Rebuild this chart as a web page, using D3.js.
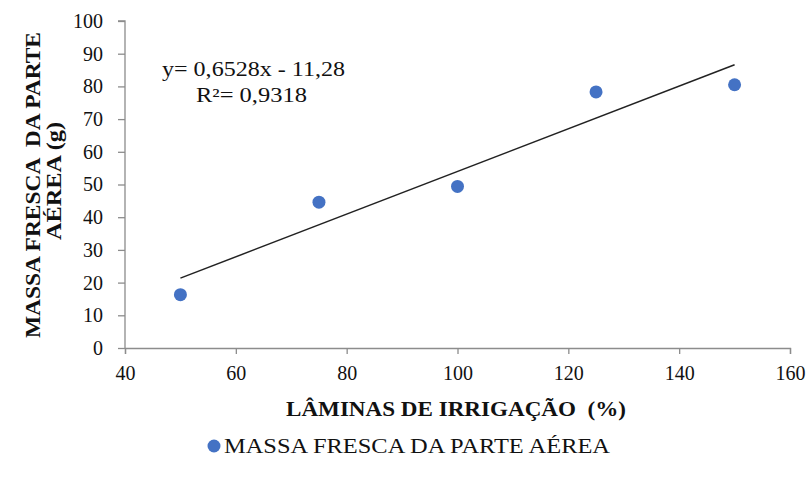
<!DOCTYPE html>
<html>
<head>
<meta charset="utf-8">
<script src="https://cdn.jsdelivr.net/npm/d3@7.9.0/dist/d3.min.js"></script>
<style>
  body { margin: 0; background: #fff; }
  svg { display: block; font-family: "Liberation Serif", "Times New Roman", serif; }
  svg text { font-family: "Liberation Serif", "Times New Roman", serif; }
</style>
</head>
<body>
<svg id="chart" width="807" height="484"></svg>
<script>
// data
const laminas = [50, 75, 100, 125, 150];
const massa   = [16.3, 44.6, 49.4, 78.3, 80.5];
const xTicks  = [40, 60, 80, 100, 120, 140, 160];
const yTicks  = [0, 10, 20, 30, 40, 50, 60, 70, 80, 90, 100];
const trend   = [0.6528, -11.28];   // slope, intercept
const eqLines = ['y= 0,6528x - 11,28', 'R²= 0,9318'];

const svg = d3.select('#chart');
const plot = { left: 125, right: 790, top: 21, bottom: 348 };

const x = d3.scaleLinear().domain([40, 160]).range([plot.left, plot.right]);
const y = d3.scaleLinear().domain([0, 100]).range([plot.bottom, plot.top]);

/* ---- axes ---- */
const gx = svg.append('g')
  .attr('transform', `translate(0,${plot.bottom})`)
  .call(d3.axisBottom(x).tickValues(xTicks).tickSize(6).tickSizeOuter(6).tickPadding(12));
const gy = svg.append('g')
  .attr('transform', `translate(${plot.left},0)`)
  .call(d3.axisLeft(y).tickValues(yTicks).tickSize(7).tickSizeOuter(7).tickPadding(15));

[gx, gy].forEach(g => {
  g.attr('font-family', null).attr('font-size', null);
  g.select('.domain').attr('stroke', '#8c8c8c').attr('stroke-width', 1.3);
  g.selectAll('.tick line').attr('stroke', '#8c8c8c').attr('stroke-width', 1.3);
  g.selectAll('.tick text')
    .attr('fill', '#111')
    .style('font-size', '20px');
});
gy.select('.domain').attr('d', `M-7,${plot.top}H0V${plot.bottom}`);

/* ---- trend line ---- */
const xEnds = d3.extent(laminas);
svg.append('line')
  .attr('x1', x(xEnds[0])).attr('y1', y(trend[0] * xEnds[0] + trend[1]))
  .attr('x2', x(xEnds[1])).attr('y2', y(trend[0] * xEnds[1] + trend[1]))
  .attr('stroke', '#222').attr('stroke-width', 1.5);

/* ---- points ---- */
svg.append('g').selectAll('circle')
  .data(laminas)
  .join('circle')
    .attr('cx', d => x(d))
    .attr('cy', (d, i) => y(massa[i]))
    .attr('r', 6.5)
    .attr('fill', '#4472c4');

/* ---- equation ---- */
svg.append('text').attr('x', 162).attr('y', 76)
  .style('font-size', '20px').attr('fill', '#111')
  .attr('textLength', 183).attr('lengthAdjust', 'spacingAndGlyphs')
  .text(eqLines[0]);
svg.append('text').attr('x', 196).attr('y', 102)
  .style('font-size', '20px').attr('fill', '#111')
  .attr('textLength', 111).attr('lengthAdjust', 'spacingAndGlyphs')
  .text(eqLines[1]);

/* ---- axis titles ---- */
svg.append('text')
  .attr('x', 286).attr('y', 416)
  .style('font-size', '22px').style('font-weight', 'bold')
  .style('white-space', 'pre')
  .attr('fill', '#111')
  .attr('textLength', 340).attr('lengthAdjust', 'spacingAndGlyphs')
  .text('LÂMINAS DE IRRIGAÇÃO  (%)');

const yTitle = svg.append('g').attr('transform', 'rotate(-90)');
yTitle.append('text')
  .attr('x', -338).attr('y', 40)
  .style('font-size', '22px').style('font-weight', 'bold')
  .style('white-space', 'pre')
  .attr('fill', '#111')
  .attr('textLength', 306).attr('lengthAdjust', 'spacingAndGlyphs')
  .text('MASSA FRESCA  DA PARTE');
yTitle.append('text')
  .attr('x', -240).attr('y', 61)
  .style('font-size', '22px').style('font-weight', 'bold')
  .attr('fill', '#111')
  .attr('textLength', 118).attr('lengthAdjust', 'spacingAndGlyphs')
  .text('AÉREA (g)');

/* ---- legend ---- */
svg.append('circle').attr('cx', 214).attr('cy', 446).attr('r', 6.5).attr('fill', '#4472c4');
svg.append('text').attr('x', 224).attr('y', 453)
  .style('font-size', '20px').attr('fill', '#111')
  .attr('textLength', 386).attr('lengthAdjust', 'spacingAndGlyphs')
  .text('MASSA FRESCA DA PARTE AÉREA');
</script>
</body>
</html>
